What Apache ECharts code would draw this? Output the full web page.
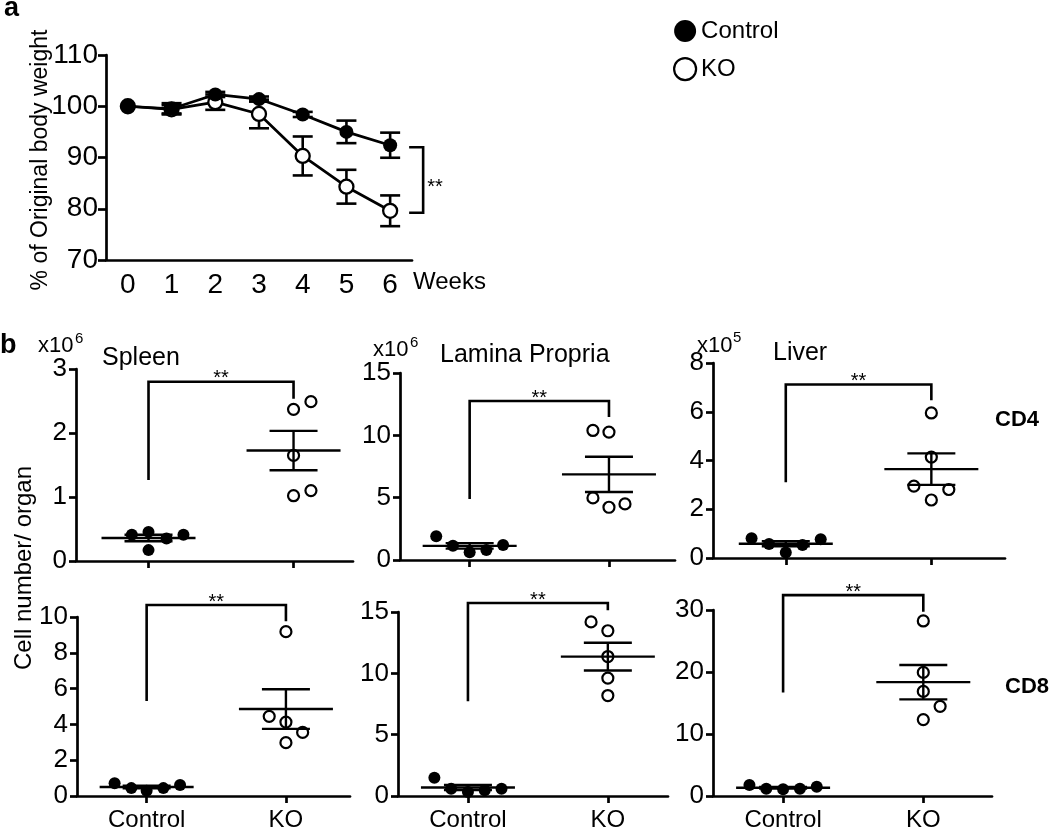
<!DOCTYPE html>
<html><head><meta charset="utf-8">
<script src="https://cdn.jsdelivr.net/npm/echarts@6/dist/echarts.min.js"></script>
<style>html,body{margin:0;padding:0;background:#fff}#chart{width:1050px;height:832px}</style>
</head><body><div id="chart"></div>
<script>
// ================= DATA =================
// Panel a: body weight
const weeks = ['0', '1', '2', '3', '4', '5', '6'];
const weightControl    = [100, 99.5, 102.3, 101.4, 98.4, 95.0, 92.4];
const weightControlErr = [0, 1.1, 0.5, 0.5, 0.5, 2.2, 2.45];
const weightKO         = [100, 99.4, 100.8, 98.5, 90.3, 84.3, 79.6];
const weightKOErr      = [0, 0.8, 1.5, 2.8, 3.8, 3.3, 3.0];

// Panel b: cell number / organ
const groups = ['Control', 'KO'];
const organs = ['Spleen', 'Lamina Propria', 'Liver'];
const organExponents = ['6', '6', '5'];
const subsets = ['CD4', 'CD8'];

const spleenCD4Control = [0.41, 0.455, 0.17, 0.35, 0.41];
const spleenCD4ControlJitter = [-0.115, 0, 0, 0.124, 0.241];
const spleenCD4KO = [2.37, 2.49, 1.65, 1.02, 1.10];
const spleenCD4KOJitter = [0, 0.12, 0, 0, 0.12];
const spleenCD4Bracket = [2.80, 1.265, 2.535];

const lpCD4Control = [1.90, 1.15, 0.62, 0.80, 1.21];
const lpCD4ControlJitter = [-0.24, -0.12, 0, 0.12, 0.24];
const lpCD4KO = [10.39, 10.26, 4.98, 4.23, 4.5];
const lpCD4KOJitter = [-0.115, 0, -0.115, 0, 0.115];
const lpCD4Bracket = [12.75, 4.9, 11.47];

const liverCD4Control = [0.81, 0.575, 0.23, 0.53, 0.77];
const liverCD4ControlJitter = [-0.235, -0.115, 0, 0.115, 0.24];
const liverCD4KO = [5.95, 4.14, 2.95, 2.81, 2.38];
const liverCD4KOJitter = [0, 0, -0.12, 0.12, 0];
const liverCD4Bracket = [7.12, 3.11, 6.47];

const spleenCD8Control = [0.71, 0.44, 0.29, 0.44, 0.62];
const spleenCD8ControlJitter = [-0.23, -0.11, 0, 0.12, 0.24];
const spleenCD8KO = [9.18, 4.45, 4.13, 3.55, 2.98];
const spleenCD8KOJitter = [0, -0.12, 0, 0.12, 0];
const spleenCD8Bracket = [10.67, 5.31, 9.76];

const lpCD8Control = [1.48, 0.59, 0.32, 0.46, 0.59];
const lpCD8ControlJitter = [-0.24, -0.12, 0, 0.12, 0.24];
const lpCD8KO = [14.19, 13.47, 11.37, 9.61, 8.19];
const lpCD8KOJitter = [-0.12, 0, 0, 0, 0];
const lpCD8Bracket = [15.73, 7.73, 15.14];

const liverCD8Control = [1.77, 1.18, 1.07, 1.18, 1.5];
const liverCD8ControlJitter = [-0.24, -0.12, 0, 0.12, 0.24];
const liverCD8KO = [28.23, 19.93, 16.87, 14.46, 12.32];
const liverCD8KOJitter = [0, 0, 0, 0.12, 0];
const liverCD8Bracket = [32.4, 16.7, 29.7];

const yMaxTicks  = [3, 15, 8, 10, 15, 30];
const yTickSteps = [1, 5, 2, 2, 5, 10];

// ================= LAYOUT / STYLE =================
const FONT = '"Liberation Sans", Arial, Helvetica, sans-serif';
const AXW = 2.7;
const layouts = [
  {left: 76,  top: 369, width: 277, height: 192, xMax: 1.41},
  {left: 400, top: 373, width: 275, height: 187, xMax: 1.474},
  {left: 713, top: 363, width: 292, height: 195, xMax: 1.506},
  {left: 77,  top: 617, width: 273, height: 184, xMax: 1.46},
  {left: 398, top: 612, width: 270, height: 186, xMax: 1.43},
  {left: 713, top: 610, width: 279, height: 187, xMax: 1.49}
];

const panels = [
  {c: spleenCD4Control, cj: spleenCD4ControlJitter, k: spleenCD4KO, kj: spleenCD4KOJitter, br: spleenCD4Bracket},
  {c: lpCD4Control, cj: lpCD4ControlJitter, k: lpCD4KO, kj: lpCD4KOJitter, br: lpCD4Bracket},
  {c: liverCD4Control, cj: liverCD4ControlJitter, k: liverCD4KO, kj: liverCD4KOJitter, br: liverCD4Bracket},
  {c: spleenCD8Control, cj: spleenCD8ControlJitter, k: spleenCD8KO, kj: spleenCD8KOJitter, br: spleenCD8Bracket},
  {c: lpCD8Control, cj: lpCD8ControlJitter, k: lpCD8KO, kj: lpCD8KOJitter, br: lpCD8Bracket},
  {c: liverCD8Control, cj: liverCD8ControlJitter, k: liverCD8KO, kj: liverCD8KOJitter, br: liverCD8Bracket}
];

function mean(a) { return a.reduce((s, v) => s + v, 0) / a.length; }
function sem(a) {
  const m = mean(a);
  const sd = Math.sqrt(a.reduce((s, v) => s + (v - m) * (v - m), 0) / (a.length - 1));
  return sd / Math.sqrt(a.length);
}

function txt(text, x, y, size, opts) {
  opts = opts || {};
  return {
    type: 'text', x: x, y: y, rotation: opts.rotation || 0, z: 100,
    style: {
      text: text, fill: '#000', fontSize: size, fontFamily: FONT,
      fontWeight: opts.bold ? 'bold' : 'normal',
      align: opts.align || 'left', textAlign: opts.align || 'left',
      verticalAlign: 'middle', textVerticalAlign: 'middle'
    }
  };
}

// ================= OPTION =================
const grid = [{left: 106, top: 55, width: 306, height: 205}];
const xAxis = [{
  type: 'category', gridIndex: 0, data: weeks, boundaryGap: true,
  axisLine: {onZero: false, lineStyle: {color: '#000', width: AXW}},
  axisTick: {alignWithLabel: true, length: 8, lineStyle: {color: '#000', width: AXW}},
  axisLabel: {fontSize: 28, fontFamily: FONT, color: '#000', margin: 11},
  splitLine: {show: false}
}];
const yAxis = [{
  type: 'value', gridIndex: 0, min: 70, max: 110, interval: 10,
  axisLine: {show: true, onZero: false, lineStyle: {color: '#000', width: AXW}},
  axisTick: {show: true, length: 8, lineStyle: {color: '#000', width: AXW}},
  axisLabel: {fontSize: 28, fontFamily: FONT, color: '#000', margin: 8},
  splitLine: {show: false}
}];

function errRender(params, api) {
  const x = api.value(0), v = api.value(1), e = api.value(2);
  if (!e) return null;
  const t = api.coord([x, v + e]), b = api.coord([x, v - e]);
  const st = {stroke: '#000', lineWidth: 2.6};
  return {type: 'group', children: [
    {type: 'line', shape: {x1: t[0], y1: t[1], x2: b[0], y2: b[1]}, style: st},
    {type: 'line', shape: {x1: t[0] - 10, y1: t[1], x2: t[0] + 10, y2: t[1]}, style: st},
    {type: 'line', shape: {x1: b[0] - 10, y1: b[1], x2: b[0] + 10, y2: b[1]}, style: st}
  ]};
}

const series = [
  {type: 'custom', name: 'errKO', xAxisIndex: 0, yAxisIndex: 0, z: 1, clip: false,
   renderItem: errRender, data: weightKO.map((v, i) => [i, v, weightKOErr[i]])},
  {type: 'custom', name: 'errCtrl', xAxisIndex: 0, yAxisIndex: 0, z: 1, clip: false,
   renderItem: errRender, data: weightControl.map((v, i) => [i, v, weightControlErr[i]])},
  {type: 'line', name: 'KO', xAxisIndex: 0, yAxisIndex: 0, data: weightKO, z: 2,
   symbol: 'circle', symbolSize: 14, lineStyle: {color: '#000', width: 2.7},
   itemStyle: {color: '#fff', borderColor: '#000', borderWidth: 2.3}},
  {type: 'line', name: 'Control', xAxisIndex: 0, yAxisIndex: 0, data: weightControl, z: 3,
   symbol: 'circle', symbolSize: 14, lineStyle: {color: '#000', width: 2.7},
   itemStyle: {color: '#000', borderColor: '#000', borderWidth: 0}},
  {type: 'custom', name: 'bracketA', xAxisIndex: 0, yAxisIndex: 0, z: 4, clip: false,
   data: [[weeks.length - 1, weightControl[6], weightKO[6]]],
   renderItem: function (params, api) {
     const p1 = api.coord([api.value(0), api.value(1)]);
     const p2 = api.coord([api.value(0), api.value(2)]);
     const x0 = p1[0] + 19, x1 = p1[0] + 33;
     return {type: 'group', children: [
       {type: 'polyline', shape: {points: [[x0, p1[1] + 2], [x1, p1[1] + 2], [x1, p2[1] + 2], [x0, p2[1] + 2]]},
        style: {stroke: '#000', lineWidth: 2.6, fill: null}},
       {type: 'text', x: x1 + 4, y: (p1[1] + p2[1]) / 2 + 9,
        style: {text: '**', fontSize: 20, fontFamily: FONT, fill: '#000', align: 'left', textAlign: 'left',
                verticalAlign: 'middle', textVerticalAlign: 'middle'}}
     ]};
   }}
];

function meanSemRender(params, api) {
  const x = api.value(0), m = api.value(1), s = api.value(2);
  const c = api.coord([x, m]), t = api.coord([x, m + s]), b = api.coord([x, m - s]);
  const st = {stroke: '#000', lineWidth: 2.4};
  return {type: 'group', children: [
    {type: 'line', shape: {x1: c[0] - 47, y1: c[1], x2: c[0] + 47, y2: c[1]}, style: st},
    {type: 'line', shape: {x1: t[0], y1: t[1], x2: b[0], y2: b[1]}, style: st},
    {type: 'line', shape: {x1: t[0] - 24, y1: t[1], x2: t[0] + 24, y2: t[1]}, style: st},
    {type: 'line', shape: {x1: b[0] - 24, y1: b[1], x2: b[0] + 24, y2: b[1]}, style: st}
  ]};
}

function bracketRender(params, api) {
  const xl = api.value(0), xr = api.value(1), top = api.value(2), lb = api.value(3), rb = api.value(4);
  const p1 = api.coord([xl, lb]), p2 = api.coord([xl, top]), p3 = api.coord([xr, top]), p4 = api.coord([xr, rb]);
  return {type: 'group', children: [
    {type: 'polyline', shape: {points: [p1, p2, p3, p4]}, style: {stroke: '#000', lineWidth: 2.6, fill: null}},
    {type: 'text', x: (p2[0] + p3[0]) / 2, y: p2[1] - 3,
     style: {text: '**', fontSize: 20, fontFamily: FONT, fill: '#000', align: 'center', textAlign: 'center',
             verticalAlign: 'middle', textVerticalAlign: 'middle'}}
  ]};
}

panels.forEach((p, i) => {
  const L = layouts[i];
  const gi = i + 1;
  const bottomRow = i >= 3;
  grid.push({left: L.left, top: L.top, width: L.width, height: L.height});
  xAxis.push({
    type: 'value', gridIndex: gi, min: -0.5, max: L.xMax,
    axisLine: {onZero: false, lineStyle: {color: '#000', width: AXW}},
    axisTick: {show: true, customValues: [0, 1], length: 7, lineStyle: {color: '#000', width: AXW}},
    axisLabel: {show: bottomRow, customValues: [0, 1], fontSize: 24, fontFamily: FONT, color: '#000', margin: 12,
                formatter: v => groups[Math.round(v)] || ''},
    splitLine: {show: false}
  });
  yAxis.push({
    type: 'value', gridIndex: gi, min: 0, max: yMaxTicks[i], interval: yTickSteps[i],
    axisLine: {show: true, onZero: false, lineStyle: {color: '#000', width: AXW}},
    axisTick: {show: true, length: 7, lineStyle: {color: '#000', width: AXW}},
    axisLabel: {fontSize: 26, fontFamily: FONT, color: '#000', margin: 9},
    splitLine: {show: false}
  });
  series.push({
    type: 'scatter', name: 'ctrl' + i, xAxisIndex: gi, yAxisIndex: gi, z: 2,
    symbol: 'circle', symbolSize: 12, itemStyle: {color: '#000', opacity: 1},
    data: p.c.map((v, j) => [0 + p.cj[j], v])
  });
  series.push({
    type: 'scatter', name: 'ko' + i, xAxisIndex: gi, yAxisIndex: gi, z: 2,
    symbol: 'circle', symbolSize: 11, itemStyle: {color: 'rgba(255,255,255,0)', borderColor: '#000', borderWidth: 2.2, opacity: 1},
    data: p.k.map((v, j) => [1 + p.kj[j], v])
  });
  series.push({
    type: 'custom', name: 'meansem' + i, xAxisIndex: gi, yAxisIndex: gi, z: 3, clip: false,
    renderItem: meanSemRender,
    data: [[0, mean(p.c), sem(p.c)], [1, mean(p.k), sem(p.k)]]
  });
  series.push({
    type: 'custom', name: 'bracket' + i, xAxisIndex: gi, yAxisIndex: gi, z: 3, clip: false,
    renderItem: bracketRender,
    data: [[0, 1, p.br[0], p.br[1], p.br[2]]]
  });
});

const graphics = [
  txt('a', 4, 9, 27, {bold: true}),
  txt('b', 0, 346, 27, {bold: true}),
  txt('% of Original body weight', 41, 160, 23, {align: 'center', rotation: Math.PI / 2}),
  txt('Weeks', 413, 282, 24),
  txt('Cell number/ organ', 24, 568, 24, {align: 'center', rotation: Math.PI / 2}),
  // organ titles with scale factors
  txt('x10', 38, 346, 22), txt(organExponents[0], 75, 339, 15), txt(organs[0], 102, 358, 25),
  txt('x10', 373, 350, 22), txt(organExponents[1], 410, 343, 15), txt(organs[1], 440, 355, 25),
  txt('x10', 697, 346, 22), txt(organExponents[2], 733, 338, 15), txt(organs[2], 773, 353, 25),
  txt(subsets[0], 995, 420, 22, {bold: true}),
  txt(subsets[1], 1005, 687, 22, {bold: true})
];

const option = {
  animation: false,
  backgroundColor: '#fff',
  textStyle: {fontFamily: FONT},
  legend: {
    orient: 'vertical', left: 673, top: 19, padding: 0, itemWidth: 22, itemHeight: 22, itemGap: 14,
    selectedMode: false,
    textStyle: {fontSize: 24, fontFamily: FONT, color: '#000'},
    data: [
      {name: 'Control', icon: 'circle', itemStyle: {color: '#000', borderWidth: 0}},
      {name: 'KO', icon: 'circle', itemStyle: {color: '#fff', borderColor: '#000', borderWidth: 2.2}}
    ]
  },
  grid: grid, xAxis: xAxis, yAxis: yAxis, series: series,
  graphic: {elements: graphics}
};

const chart = echarts.init(document.getElementById('chart'), null, {renderer: 'canvas'});
chart.setOption(option);
</script>
</body></html>
